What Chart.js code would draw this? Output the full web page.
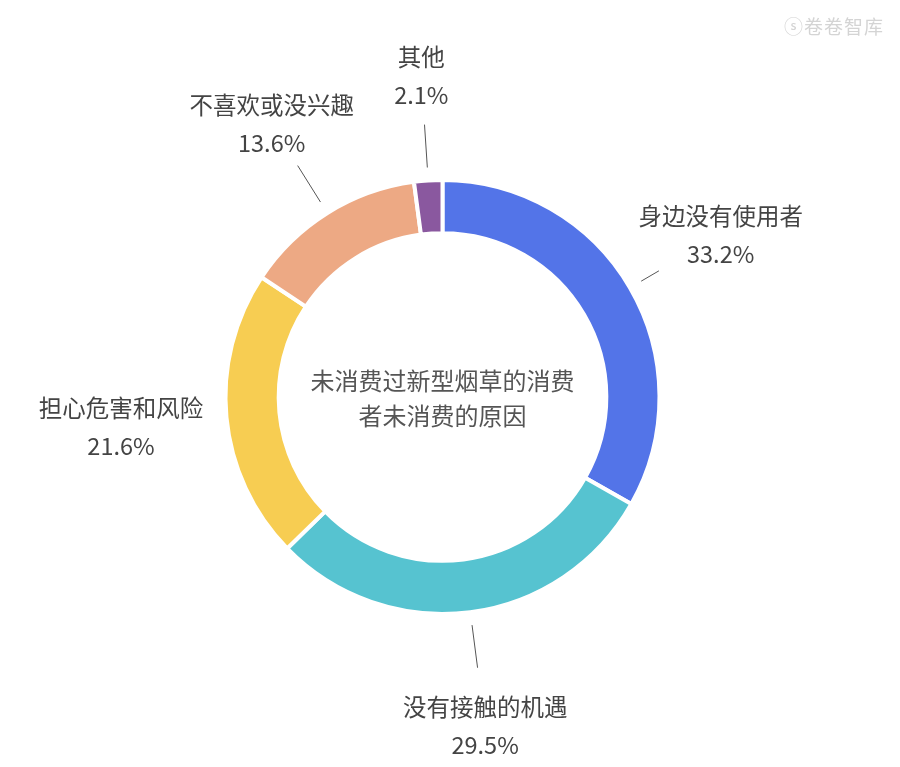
<!DOCTYPE html>
<html>
<head>
<meta charset="utf-8">
<script src="https://cdn.jsdelivr.net/npm/chart.js@4"></script>
<style>
  body { margin: 0; background: #fff; }
  #wrap { position: relative; width: 900px; height: 767px; }
  #mark { position: absolute; right: 16px; top: 12px; font: 19px "Noto Sans CJK SC"; color: #d4d4d4; letter-spacing: 1px; }
</style>
</head>
<body>
<div id="wrap">
  <canvas id="pie" width="900" height="767"></canvas>
  <div id="mark">ⓢ卷卷智库</div>
</div>
<script>
const labels = ["身边没有使用者", "没有接触的机遇", "担心危害和风险", "不喜欢或没兴趣", "其他"];
const values = [33.2, 29.5, 21.6, 13.6, 2.1];
const colors = ["#5374e8", "#56c3d0", "#f7cd52", "#eda984", "#8a589f"];
const centerText = ["未消费过新型烟草的消费", "者未消费的原因"];

const font = '"Noto Sans CJK SC", "Noto Sans", sans-serif';

// outside labels with short leader lines
const outLabels = {
  id: "outLabels",
  afterDraw(chart) {
    const ctx = chart.ctx;
    const arcs = chart.getDatasetMeta(0).data;
    ctx.save();
    ctx.font = "23.5px " + font;
    ctx.textAlign = "center";
    ctx.textBaseline = "middle";
    arcs.forEach((arc, i) => {
      const mid = (arc.startAngle + arc.endAngle) / 2;
      const dx = Math.cos(mid), dy = Math.sin(mid);
      const r = arc.outerRadius;
      const rr = r + 105 + 10 * Math.max(0, dy);
      const cx = arc.x + dx * rr, cy = arc.y + dy * rr;
      const line1 = labels[i];
      const line2 = values[i].toFixed(1) + "%";
      const w = Math.max(ctx.measureText(line1).width, ctx.measureText(line2).width);
      const box = { l: cx - w / 2 - 6, r: cx + w / 2 + 6, t: cy - 34, b: cy + 34 };

      // leader line, stopped before it runs into the label box
      let r0 = r + 13, r1 = r + 56;
      for (let t = r0; t <= r1; t += 0.5) {
        const px = arc.x + dx * t, py = arc.y + dy * t;
        if (px > box.l && px < box.r && py > box.t && py < box.b) { r1 = t - 4; break; }
      }
      if (r1 - r0 > 4) {
        ctx.strokeStyle = "#555";
        ctx.lineWidth = 1;
        ctx.beginPath();
        ctx.moveTo(arc.x + dx * r0, arc.y + dy * r0);
        ctx.lineTo(arc.x + dx * r1, arc.y + dy * r1);
        ctx.stroke();
      }

      ctx.fillStyle = "#444";
      ctx.fillText(line1, cx, cy - 19);
      ctx.fillText(line2, cx, cy + 19);
    });

    // centre title
    const a = arcs[0];
    ctx.font = "24px " + font;
    ctx.fillStyle = "#555";
    ctx.fillText(centerText[0], a.x, a.y - 16);
    ctx.fillText(centerText[1], a.x, a.y + 19);
    ctx.restore();
  }
};

new Chart(document.getElementById("pie"), {
  type: "doughnut",
  data: {
    labels,
    datasets: [{
      data: values,
      backgroundColor: colors,
      borderColor: "#fff",
      borderWidth: 4
    }]
  },
  options: {
    responsive: false,
    animation: false,
    cutout: "75.5%",
    layout: { padding: { left: 223, right: 238, top: 178, bottom: 151 } },
    plugins: { legend: { display: false }, tooltip: { enabled: false } }
  },
  plugins: [outLabels]
});
</script>
</body>
</html>
